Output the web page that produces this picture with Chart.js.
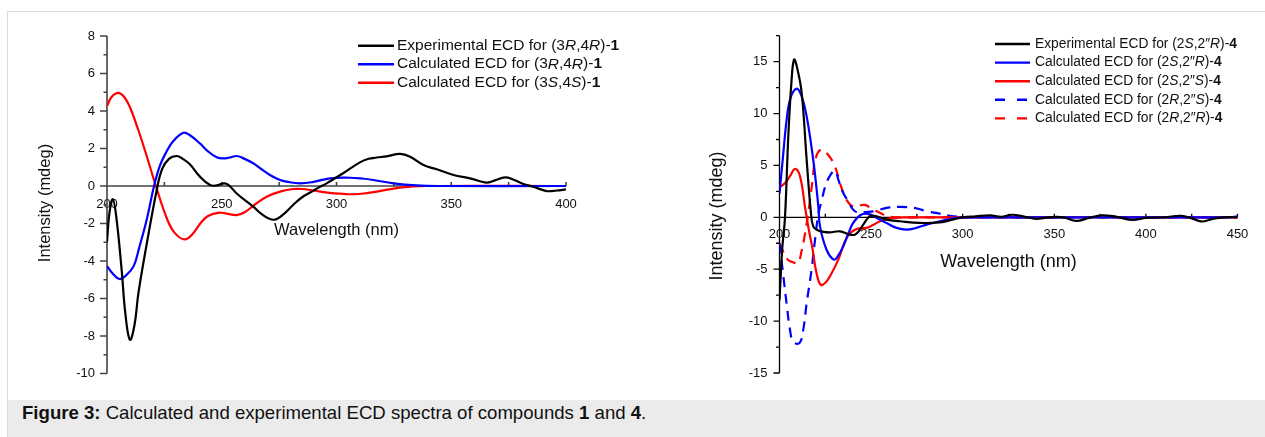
<!DOCTYPE html>
<html>
<head>
<meta charset="utf-8">
<script src="https://cdn.jsdelivr.net/npm/chart.js@4.4.0/dist/chart.umd.min.js"></script>
<style>
body{margin:0;width:1265px;height:437px;overflow:hidden;background:#fff;font-family:"Liberation Sans",Arial,sans-serif;position:relative}
#frame{position:absolute;left:7px;top:11px;width:1270px;height:440px;border-top:1px solid #dcdcdc;border-left:1px solid #dcdcdc}
#cap{position:absolute;left:8px;top:400px;width:1257px;height:37px;background:#ebebeb}
#cap span{position:absolute;left:14px;top:2px;font-size:18.6px;line-height:22px;color:#111;white-space:nowrap}
.c{position:absolute;top:0}
</style>
</head>
<body>
<div id="frame"></div>
<canvas id="ecd1" class="c" style="left:0" width="640" height="400"></canvas>
<canvas id="ecd4" class="c" style="left:640px" width="625" height="400"></canvas>
<div id="cap"><span><b>Figure 3:</b> Calculated and experimental ECD spectra of compounds <b>1</b> and <b>4</b>.</span></div>
<script>
// ---------- compound 1 ----------
const wlExp1 = [200, 201, 202.5, 204, 206.4, 208, 210, 212, 213.7, 217.3, 221.7, 224, 227, 230.4, 233, 236.2, 240.5, 244.9, 247.8, 251, 253, 256.5, 263.7, 268, 272.5, 276, 281.2, 285, 288.5, 292, 295.7, 302.9, 310.2, 314, 317.5, 321.8, 327.7, 332.1, 337.9, 343.7, 351, 358.2, 365.2, 369, 373.4, 377, 381.4, 385.7, 391.6, 396, 400];
const cdExp1 = [-3.0, -1.5, -0.7, -1.6, -4.5, -6.8, -8.2, -7.4, -5.7, -3.1, -0.2, 0.9, 1.45, 1.6, 1.45, 1.15, 0.5, 0.05, 0.03, 0.14, 0.05, -0.4, -1.1, -1.55, -1.8, -1.6, -1.0, -0.6, -0.35, -0.1, 0.14, 0.68, 1.26, 1.45, 1.52, 1.58, 1.71, 1.56, 1.12, 0.89, 0.59, 0.41, 0.18, 0.3, 0.46, 0.35, 0.11, -0.04, -0.27, -0.24, -0.18];

const wlCalcRR1 = [200, 202, 205.4, 208, 211.5, 214, 217.3, 220.5, 223.1, 226, 228.9, 233.3, 236, 240.5, 244, 247.8, 250.7, 253.5, 256.5, 259, 263.7, 267, 271, 275.4, 278.3, 284.1, 290, 297.2, 305.9, 311, 316.1, 324.8, 334.9, 345, 400];
const cdCalcRR1 = [-4.27, -4.6, -4.96, -4.8, -4.3, -3.3, -1.8, 0, 1.1, 1.85, 2.4, 2.84, 2.72, 2.27, 1.85, 1.53, 1.47, 1.52, 1.6, 1.5, 1.21, 0.92, 0.59, 0.32, 0.23, 0.14, 0.22, 0.41, 0.44, 0.4, 0.32, 0.14, 0.03, 0, 0];

const wlCalcSS1 = [200, 202, 204.9, 207.5, 210, 213.6, 217.3, 221.3, 226.3, 229.5, 233.7, 237, 241, 244, 248.9, 252, 256.5, 260, 265.2, 270, 275.4, 281.2, 285, 290, 297, 303, 307.3, 312, 317.5, 327.7, 339, 400];
const cdCalcSS1 = [4.27, 4.75, 4.97, 4.75, 4.2, 3.0, 1.6, 0, -1.8, -2.5, -2.85, -2.6, -1.95, -1.6, -1.42, -1.47, -1.55, -1.4, -0.92, -0.55, -0.3, -0.16, -0.16, -0.24, -0.37, -0.42, -0.44, -0.4, -0.3, -0.09, 0, 0];

const xTicks1 = [200, 250, 300, 350, 400];
const yTicks1 = [-10, -8, -6, -4, -2, 0, 2, 4, 6, 8];

const legend1 = [
  [["Experimental ECD for (3", ""], ["R", "i"], [",4", ""], ["R", "i"], [")-", ""], ["1", "b"]],
  [["Calculated ECD for (3", ""], ["R", "i"], [",4", ""], ["R", "i"], [")-", ""], ["1", "b"]],
  [["Calculated ECD for (3", ""], ["S", "i"], [",4", ""], ["S", "i"], [")-", ""], ["1", "b"]]
];

// ---------- compound 4 ----------
const wlExp4 = [200, 201.5, 203, 204.8, 206.5, 207.9, 209.5, 212.1, 214.8, 217, 218.4, 221.2, 224, 227.5, 233, 238.4, 241.1, 243.5, 245.7, 249.3, 253, 258.4, 265.7, 276.6, 287.5, 295, 300, 307, 315, 321, 327, 334, 340, 347, 355, 362, 369, 376, 384, 392.8, 400, 410, 419.3, 425, 430.2, 436.5, 442, 450];
const cdExp4 = [-8.0, -3.0, 0, 7.8, 13, 15.2, 14.5, 12, 5.6, 0.74, -0.87, -1.28, -1.4, -1.45, -1.35, -1.67, -1.67, -1.3, -0.7, 0.1, 0.1, -0.22, -0.38, -0.54, -0.48, -0.2, 0, 0.1, 0.2, 0.05, 0.25, 0.05, -0.15, 0, 0, -0.35, -0.05, 0.2, 0.05, -0.25, -0.05, 0, 0.15, -0.1, -0.4, -0.15, 0, 0];

const wlCalcSR4 = [200, 202, 203.9, 206, 209.4, 212, 214.8, 218.4, 221.2, 222.1, 225.7, 229.7, 232, 234.8, 237.5, 240.2, 244, 247.5, 251, 254.8, 259, 263.9, 269.4, 274, 280.3, 287.5, 295, 300, 445, 450];
const cdCalcSR4 = [2.3, 6, 9.4, 11.5, 12.4, 11.7, 9.75, 5.57, 1.06, -0.87, -3.12, -4.08, -3.7, -2.8, -1.6, -0.54, 0.2, 0.36, 0.15, -0.22, -0.6, -1.02, -1.19, -1.05, -0.7, -0.38, -0.1, 0, 0, 0.1];

const wlCalcSS4 = [200, 203, 205.7, 208.5, 211.2, 214, 216, 218, 220, 222.4, 225, 227.5, 232.1, 236.6, 241.2, 247.5, 251, 254.8, 262, 270, 450];
const cdCalcSS4 = [2.9, 3.3, 3.96, 4.67, 3.96, 0.9, -1.2, -3.0, -5.2, -6.5, -6.3, -5.7, -4.08, -2.0, -1.19, -1.02, -0.75, -0.38, -0.06, 0, 0];

const wlCalcRS4 = [200, 202, 204, 205.7, 207.5, 211, 213, 214.8, 217.5, 219.5, 221.2, 223, 225, 227.5, 230.3, 232.1, 234.8, 237.5, 240.2, 243, 247, 252, 256, 260, 265, 270, 275, 280, 287.5, 293, 300, 305, 450];
const cdCalcRS4 = [-2.5, -5.5, -8.5, -10.8, -12.0, -12.1, -10.8, -8.3, -5.05, -2.0, 0.3, 1.6, 3.0, 4.0, 4.5, 3.64, 2.35, 1.55, 0.74, 0.45, 0.5, 0.6, 0.8, 0.95, 1.0, 0.97, 0.85, 0.6, 0.35, 0.15, 0.03, 0, 0];

const wlCalcRR4 = [200, 202, 204.6, 207, 210, 212, 214, 216.3, 218, 219.6, 222.5, 226.6, 230.3, 233, 236.6, 240.2, 243, 246.6, 251.1, 255, 258, 262, 270, 450];
const cdCalcRR4 = [-2.5, -3.3, -4.1, -4.3, -4.4, -3.3, -1.5, 1.2, 3.5, 5.6, 6.5, 6.0, 4.9, 3.3, 1.7, 1.0, 1.1, 1.2, 0.74, 0.42, 0.15, 0.02, 0, 0];

const xTicks4 = [200, 250, 300, 350, 400, 450];
const yTicks4 = [-15, -10, -5, 0, 5, 10, 15];

const legend4 = [
  [["Experimental ECD for (2", ""], ["S", "i"], [",2\u2033", ""], ["R", "i"], [")-", ""], ["4", "b"]],
  [["Calculated ECD for (2", ""], ["S", "i"], [",2\u2033", ""], ["R", "i"], [")-", ""], ["4", "b"]],
  [["Calculated ECD for (2", ""], ["S", "i"], [",2\u2033", ""], ["S", "i"], [")-", ""], ["4", "b"]],
  [["Calculated ECD for (2", ""], ["R", "i"], [",2\u2033", ""], ["S", "i"], [")-", ""], ["4", "b"]],
  [["Calculated ECD for (2", ""], ["R", "i"], [",2\u2033", ""], ["R", "i"], [")-", ""], ["4", "b"]]
];

const FONT = '"Liberation Sans", Arial, sans-serif';

function pts(xs, ys) {
  return xs.map((x, i) => ({x: x, y: ys[i]}));
}

function serie(xs, ys, color, dash) {
  return {
    data: pts(xs, ys),
    borderColor: color,
    borderWidth: 2.2,
    borderDash: dash || [],
    pointRadius: 0,
    tension: 0.4,
    fill: false
  };
}

// ejes, titulos y leyenda a mano
const decor = {
  id: 'decor',
  beforeDatasetsDraw(chart, args, o) {
    const ctx = chart.ctx, xs = chart.scales.x, ys = chart.scales.y, a = chart.chartArea;
    const y0 = ys.getPixelForValue(0);
    ctx.save();
    ctx.strokeStyle = o.axisColor;
    ctx.lineWidth = o.axisWidth;
    ctx.beginPath();
    ctx.moveTo(a.left, a.top); ctx.lineTo(a.left, a.bottom);
    ctx.moveTo(a.left, y0); ctx.lineTo(a.right, y0);
    // y ticks
    const yt = o.yTicks, ystep = yt[1] - yt[0];
    yt.forEach(v => {
      const p = ys.getPixelForValue(v);
      ctx.moveTo(a.left - o.majorLen, p); ctx.lineTo(a.left, p);
    });
    for (let v = yt[0] + ystep / 2; v <= ys.max + 1e-6; v += ystep) {
      const p = ys.getPixelForValue(v);
      ctx.moveTo(a.left - o.minorLen, p); ctx.lineTo(a.left, p);
    }
    // x ticks (hacia arriba)
    const xt = o.xTicks, xstep = xt[1] - xt[0];
    for (let v = xt[0] + xstep / 2; v <= xs.max + 1e-6; v += xstep / 2) {
      const p = xs.getPixelForValue(v);
      ctx.moveTo(p, y0 - o.xTickLen); ctx.lineTo(p, y0);
    }
    ctx.stroke();
    ctx.restore();
  },
  afterDraw(chart, args, o) {
    const ctx = chart.ctx, a = chart.chartArea;
    ctx.save();
    ctx.fillStyle = '#111';
    ctx.textBaseline = 'middle';
    ctx.textAlign = 'center';
    ctx.font = o.titleSize + 'px ' + FONT;
    ctx.fillText(o.xTitle, (a.left + a.right) / 2, o.xTitleY);
    ctx.save();
    ctx.translate(o.yTitleX, o.yTitleY);
    ctx.rotate(-Math.PI / 2);
    ctx.fillText(o.yTitle, 0, 0);
    ctx.restore();
    // leyenda
    const L = o.legend;
    ctx.textAlign = 'left';
    chart.data.datasets.forEach((ds, i) => {
      const y = L.y + i * L.dy;
      ctx.save();
      ctx.strokeStyle = ds.borderColor;
      ctx.lineWidth = 2.4;
      ctx.setLineDash(ds.borderDash.length ? L.dash : []);
      ctx.beginPath();
      ctx.moveTo(L.x, y); ctx.lineTo(L.x + L.len, y);
      ctx.stroke();
      ctx.restore();
      let x = L.x + L.len + L.gap;
      o.labels[i].forEach(part => {
        const st = part[1] === 'i' ? 'italic ' : part[1] === 'b' ? 'bold ' : '';
        ctx.font = st + L.size + 'px ' + FONT;
        ctx.fillText(part[0], x, y);
        x += ctx.measureText(part[0]).width;
      });
    });
    ctx.restore();
  }
};

function ecdChart(id, datasets, xr, yr, xTicks, yTicks, box, deco) {
  const c = document.getElementById(id);
  return new Chart(c, {
    type: 'line',
    data: {datasets: datasets},
    plugins: [decor],
    options: {
      responsive: false,
      animation: false,
      devicePixelRatio: 1,
      layout: {padding: {left: 0, top: box.top, right: box.right, bottom: box.bottom}},
      plugins: {legend: {display: false}, tooltip: {enabled: false}, decor: deco},
      scales: {
        x: {
          type: 'linear', min: xr[0], max: xr[1], position: {y: 0},
          grid: {display: false, drawTicks: false}, border: {display: false},
          afterBuildTicks: s => { s.ticks = xTicks.map(v => ({value: v})); },
          ticks: {font: {family: FONT, size: 13}, color: '#111', padding: box.xPad, maxRotation: 0, autoSkip: false}
        },
        y: {
          type: 'linear', min: yr[0], max: yr[1],
          grid: {display: false, drawTicks: false}, border: {display: false},
          afterBuildTicks: s => { s.ticks = yTicks.map(v => ({value: v})); },
          afterFit: s => { s.width = box.left; },
          ticks: {font: {family: FONT, size: 13}, color: '#111', padding: 12, autoSkip: false}
        }
      }
    }
  });
}

ecdChart('ecd1', [
  serie(wlExp1, cdExp1, '#000'),
  serie(wlCalcRR1, cdCalcRR1, '#0000ff'),
  serie(wlCalcSS1, cdCalcSS1, '#ff0000')
], [200, 400], [-10, 8], xTicks1, yTicks1,
  {left: 107, top: 36, right: 74, bottom: 26.5, xPad: 11},
  {axisColor: '#444', axisWidth: 1.6, majorLen: 7, minorLen: 3.5, xTickLen: 4,
   xTicks: xTicks1, yTicks: yTicks1,
   xTitle: 'Wavelength (nm)', yTitle: 'Intensity (mdeg)', titleSize: 16.5,
   xTitleY: 230, yTitleX: 45, yTitleY: 203,
   labels: legend1,
   legend: {x: 358, y: 45.7, dy: 18.5, len: 36, gap: 3, size: 15.5, dash: [10, 8]}});

ecdChart('ecd4', [
  serie(wlExp4, cdExp4, '#000'),
  serie(wlCalcSR4, cdCalcSR4, '#0000ff'),
  serie(wlCalcSS4, cdCalcSS4, '#ff0000'),
  serie(wlCalcRS4, cdCalcRS4, '#0000ff', [10, 7]),
  serie(wlCalcRR4, cdCalcRR4, '#ff0000', [10, 7])
], [200, 450], [-15, 17.5], xTicks4, yTicks4,
  {left: 139.5, top: 35.7, right: 27.5, bottom: 27, xPad: 9},
  {axisColor: '#000', axisWidth: 1.3, majorLen: 6, minorLen: 3.5, xTickLen: 3.5,
   xTicks: xTicks4, yTicks: yTicks4,
   xTitle: 'Wavelength (nm)', yTitle: 'Intensity (mdeg)', titleSize: 18,
   xTitleY: 261.7, yTitleX: 76.7, yTitleY: 216,
   labels: legend4,
   legend: {x: 355, y: 44, dy: 18.6, len: 35, gap: 5, size: 13.8, dash: [10, 12]}});
</script>
</body>
</html>
